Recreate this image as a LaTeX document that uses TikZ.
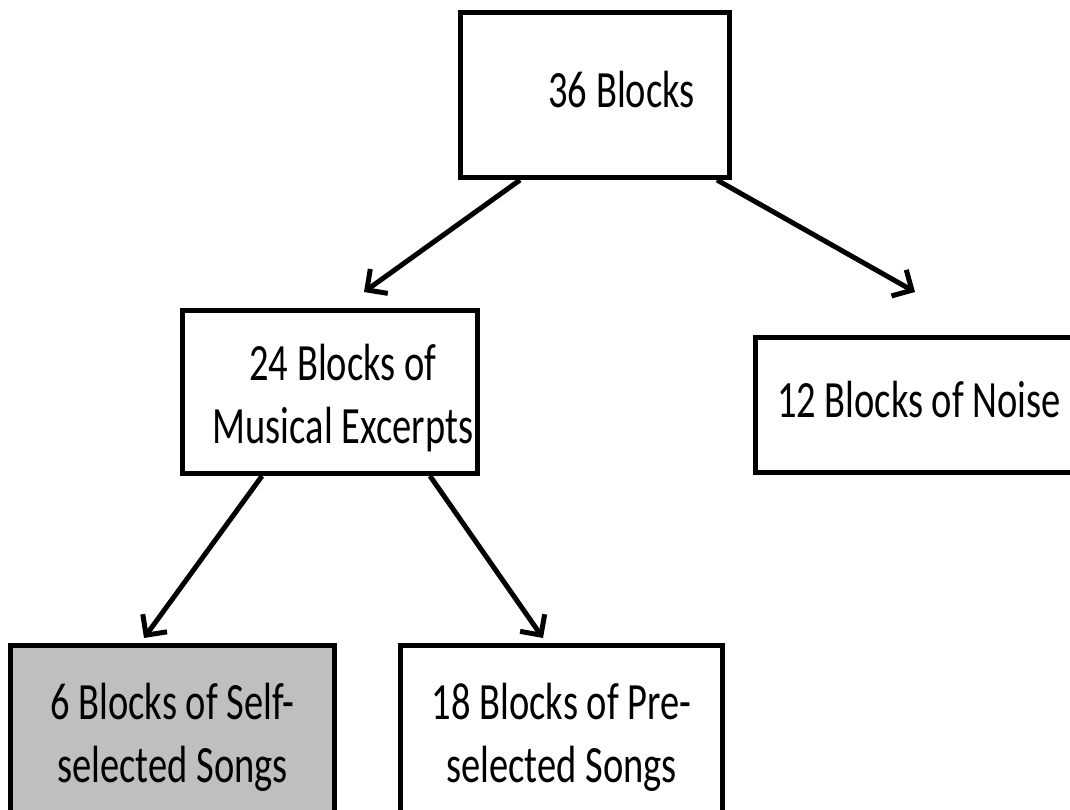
\documentclass[tikz,border=0pt]{standalone}
\usepackage{fontspec}
\setmainfont{Carlito}
\usetikzlibrary{arrows.meta}
\definecolor{boxgray}{RGB}{191,191,191}
\newcommand{\stretchtext}[1]{\scalebox{1}[1.36]{\begin{tabular}{@{}c@{}}#1\end{tabular}}}
\newcommand{\shifttext}[3]{\hspace*{#1}\raisebox{#2}[\height][\depth]{#3}}
\tikzset{
  blockbox/.style={draw=black, line width=5pt, fill=white, inner sep=0pt,
    font=\fontsize{38.5}{46.5}\selectfont},
  arr/.style={line width=5pt, -{Straight Barb[length=15pt,width=30pt,line width=5pt]}},
}
\begin{document}
\begin{tikzpicture}[x=1pt,y=1pt]
\useasboundingbox (0,0) rectangle (1070,809);
\clip (0,0) rectangle (1070,809);
\fill[white] (0,0) rectangle (1070,809);
\node[blockbox, minimum width=269pt, minimum height=165pt] (top) at (594.5,714) {\shifttext{54pt}{0pt}{\stretchtext{36 Blocks}}};
\node[blockbox, minimum width=295pt, minimum height=163pt] (mid) at (330,417) {\shifttext{26pt}{-7pt}{\stretchtext{24 Blocks of\\Musical Excerpts}}};
\node[blockbox, minimum width=327pt, minimum height=135pt] (noise) at (919,404) {\stretchtext{12 Blocks of Noise}};
\node[blockbox, fill=boxgray, minimum width=324pt, minimum height=185pt] (self) at (172.5,71) {\stretchtext{6 Blocks of Self-\\selected Songs}};
\node[blockbox, minimum width=322pt, minimum height=185pt] (pre) at (561.5,71) {\stretchtext{18 Blocks of Pre-\\selected Songs}};
\draw[arr] ([xshift=-74.5pt]top.south) -- ([xshift=34pt,yshift=16pt]mid.north);
\draw[arr] ([xshift=122.5pt]top.south) -- ([xshift=-4pt,yshift=43pt]noise.north);
\draw[arr] ([xshift=-68pt]mid.south) -- ([xshift=-28.5pt,yshift=5pt]self.north);
\draw[arr] ([xshift=100pt]mid.south) -- ([xshift=-18.5pt,yshift=5pt]pre.north);
\end{tikzpicture}
\end{document}
